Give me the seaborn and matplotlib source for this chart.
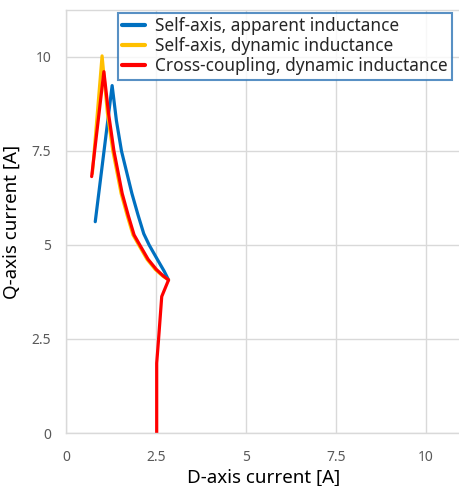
import numpy as np
import pandas as pd
import matplotlib
matplotlib.use("Agg")
import matplotlib.pyplot as plt
import seaborn as sns
from matplotlib.lines import Line2D

# Data
blue_x = [0.80, 1.27, 1.39, 1.53, 1.82, 1.99, 2.15, 2.30, 2.55, 2.72, 2.84]
blue_y = [5.62, 9.24, 8.30, 7.50, 6.37, 5.80, 5.30, 5.00, 4.58, 4.30, 4.07]

yellow_x = [0.72, 0.99, 1.14, 1.29, 1.52, 1.69, 1.85, 2.01, 2.24, 2.47, 2.67, 2.84]
yellow_y = [6.90, 10.03, 8.50, 7.50, 6.37, 5.78, 5.27, 5.00, 4.62, 4.35, 4.18, 4.07]

red_x = [0.70, 1.04, 1.17, 1.32, 1.55, 1.72, 1.88, 2.04, 2.27, 2.50, 2.69, 2.84,
         2.65, 2.56, 2.51, 2.51]
red_y = [6.82, 9.61, 8.50, 7.50, 6.37, 5.78, 5.27, 5.00, 4.62, 4.35, 4.18, 4.07,
         3.63, 2.47, 1.86, 0.00]

labels = ["Self-axis, apparent inductance",
          "Self-axis, dynamic inductance",
          "Cross-coupling, dynamic inductance"]
colors = ["#0070C0", "#FFC000", "#FF0000"]
ticks = [0, 2.5, 5, 7.5, 10]
tick_labels = ["0", "2.5", "5", "7.5", "10"]

frames = []
for lab, xs, ys in zip(labels, [blue_x, yellow_x, red_x], [blue_y, yellow_y, red_y]):
    frames.append(pd.DataFrame({"d": xs, "q": ys, "series": lab}))
df = pd.concat(frames, ignore_index=True)

sns.set_theme(style="white")
plt.rcParams['font.family'] = ['Noto Sans', 'DejaVu Sans']

fig = plt.figure(figsize=(4.6, 4.86), dpi=100)
ax = fig.add_axes([66.5/460, 1 - 433/486, 1 - 66.5/460, (433 - 10)/486])

sns.lineplot(data=df, x="d", y="q", hue="series", hue_order=labels,
             palette=colors, sort=False, estimator=None, units="series",
             linewidth=2.3, ax=ax, legend=False)

ax.set_xlim(0, 10.95)
ax.set_ylim(0, 11.25)
ax.set_xticks(ticks)
ax.set_xticklabels(tick_labels)
ax.set_yticks(ticks)
ax.set_yticklabels(tick_labels)
ax.grid(True, color="#D9D9D9", linewidth=1.0)
ax.set_axisbelow(True)
for s in ["left", "bottom", "top"]:
    ax.spines[s].set_color("#D9D9D9")
    ax.spines[s].set_linewidth(1.0)
ax.spines["right"].set_visible(False)
ax.tick_params(axis="x", length=0, colors="#595959", labelsize=10, pad=12)
ax.tick_params(axis="y", length=0, colors="#595959", labelsize=10, pad=11)

ax.set_xlabel("D-axis current [A]", fontsize=13.5, color="#000000", labelpad=3)
ax.set_ylabel("Q-axis current [A]", fontsize=13.5, color="#000000", labelpad=8)

handles = [Line2D([0], [0], color=c, lw=3) for c in colors]
leg = fig.legend(handles, labels, loc="upper left",
                 bbox_to_anchor=(118/460, 1 - 13/486), fontsize=12.4,
                 frameon=True, fancybox=False, handlelength=1.3,
                 handletextpad=0.6, borderpad=0.25, labelspacing=0.12,
                 borderaxespad=0)
leg.get_frame().set_edgecolor("#2E75B6")
leg.get_frame().set_linewidth(1.5)

fig.savefig("out.png", dpi=100)
